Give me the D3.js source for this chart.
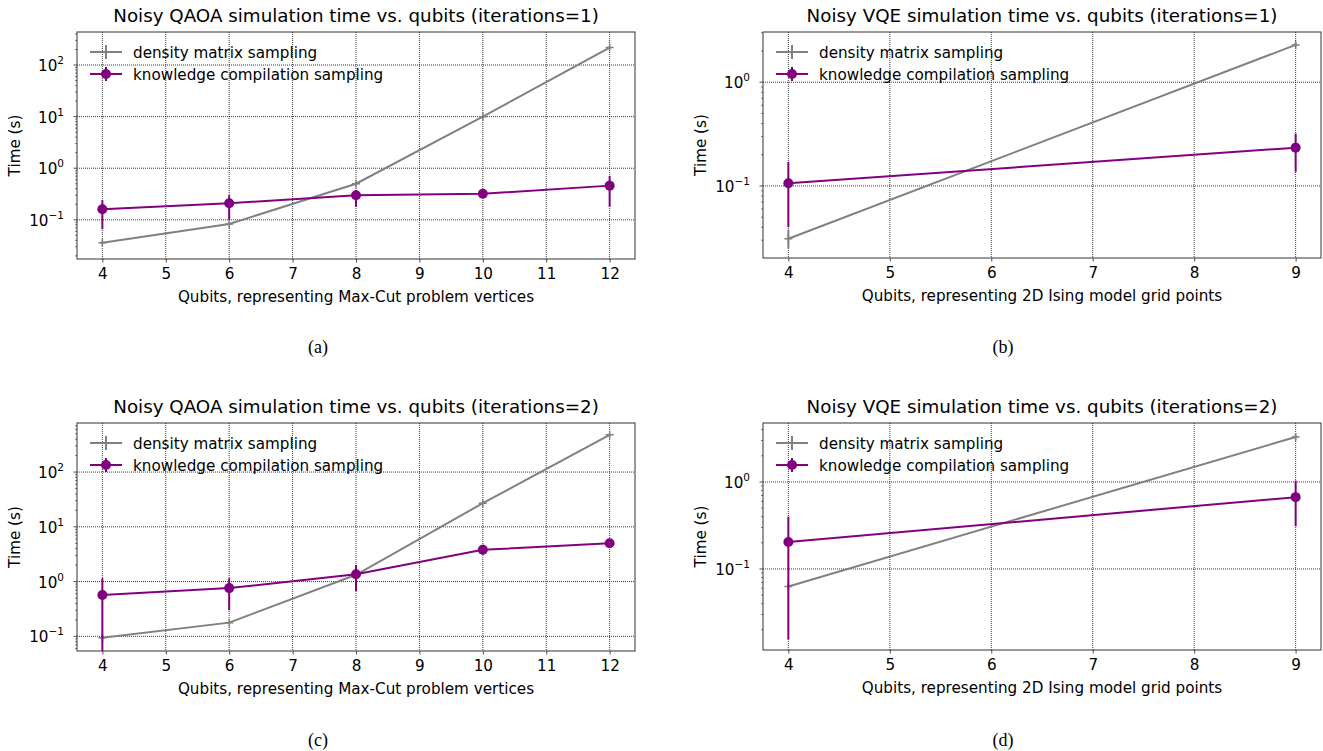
<!DOCTYPE html>
<html>
<head>
<meta charset="utf-8">
<script src="https://cdn.jsdelivr.net/npm/d3@7"></script>
<style>
  body { margin: 0; background: #fff; }
  text { font-family: "DejaVu Sans", sans-serif; fill: #000; }
  .caption { font-family: "Liberation Serif", "DejaVu Serif", serif; font-size: 18px; }
</style>
</head>
<body>
<svg id="chart" width="1323" height="751"></svg>
<script>
// qubit counts on the x axis
var qaoaQubits = [4, 6, 8, 10, 12];
var vqeQubits = [4, 9];

// QAOA, iterations = 1
var qaoa1Density = [0.036, 0.083, 0.50, 10, 218];
var qaoa1DensityLo = [0.034, 0.080, 0.48, 9.7, 205];
var qaoa1DensityHi = [0.038, 0.086, 0.52, 10.3, 230];
var qaoa1Knowledge = [0.16, 0.21, 0.30, 0.32, 0.46];
var qaoa1KnowledgeLo = [0.066, 0.10, 0.18, 0.29, 0.18];
var qaoa1KnowledgeHi = [0.24, 0.30, 0.38, 0.35, 0.71];

// VQE, iterations = 1
var vqe1Density = [0.031, 2.29];
var vqe1DensityLo = [0.025, 2.2];
var vqe1DensityHi = [0.038, 2.4];
var vqe1Knowledge = [0.106, 0.234];
var vqe1KnowledgeLo = [0.040, 0.137];
var vqe1KnowledgeHi = [0.17, 0.32];

// QAOA, iterations = 2
var qaoa2Density = [0.094, 0.178, 1.33, 27, 480];
var qaoa2DensityLo = [0.090, 0.170, 1.25, 26, 460];
var qaoa2DensityHi = [0.098, 0.186, 1.40, 28, 500];
var qaoa2Knowledge = [0.57, 0.76, 1.36, 3.8, 5.0];
var qaoa2KnowledgeLo = [0.001, 0.30, 0.67, 3.1, 4.5];
var qaoa2KnowledgeHi = [1.15, 1.15, 2.0, 4.7, 5.5];

// VQE, iterations = 2
var vqe2Density = [0.063, 3.29];
var vqe2DensityLo = [0.060, 3.15];
var vqe2DensityHi = [0.066, 3.45];
var vqe2Knowledge = [0.204, 0.67];
var vqe2KnowledgeLo = [0.0155, 0.31];
var vqe2KnowledgeHi = [0.40, 1.04];

var titles = [
  "Noisy QAOA simulation time vs. qubits (iterations=1)",
  "Noisy VQE simulation time vs. qubits (iterations=1)",
  "Noisy QAOA simulation time vs. qubits (iterations=2)",
  "Noisy VQE simulation time vs. qubits (iterations=2)"
];
var xLabels = [
  "Qubits, representing Max-Cut problem vertices",
  "Qubits, representing 2D Ising model grid points"
];
var legendNames = ["density matrix sampling", "knowledge compilation sampling"];
var captions = ["(a)", "(b)", "(c)", "(d)"];

var grayColor = "#808080";
var purpleColor = "#800080";
var fontSize = "15.2px";

var svg = d3.select("#chart");

// build one table per panel from the arrays above
function series(xs, ys, lo, hi) {
  return xs.map(function(x, i) { return { x: x, y: ys[i], lo: lo[i], hi: hi[i] }; });
}

var panels = [
  { title: titles[0], xLabel: xLabels[0], caption: captions[0], capX: 318, capY: 353,
    box: { left: 77, right: 635, top: 32, bottom: 259 },
    xDomain: [3.6, 12.4], xTicks: d3.range(4, 13), yDomain: [0.0174, 437],
    density: series(qaoaQubits, qaoa1Density, qaoa1DensityLo, qaoa1DensityHi),
    knowledge: series(qaoaQubits, qaoa1Knowledge, qaoa1KnowledgeLo, qaoa1KnowledgeHi) },
  { title: titles[1], xLabel: xLabels[1], caption: captions[1], capX: 1003, capY: 353,
    box: { left: 763, right: 1321, top: 32, bottom: 258 },
    xDomain: [3.75, 9.25], xTicks: d3.range(4, 10), yDomain: [0.0202, 3.05],
    density: series(vqeQubits, vqe1Density, vqe1DensityLo, vqe1DensityHi),
    knowledge: series(vqeQubits, vqe1Knowledge, vqe1KnowledgeLo, vqe1KnowledgeHi) },
  { title: titles[2], xLabel: xLabels[0], caption: captions[2], capX: 318, capY: 746,
    box: { left: 77, right: 635, top: 423, bottom: 651 },
    xDomain: [3.6, 12.4], xTicks: d3.range(4, 13), yDomain: [0.054, 787],
    density: series(qaoaQubits, qaoa2Density, qaoa2DensityLo, qaoa2DensityHi),
    knowledge: series(qaoaQubits, qaoa2Knowledge, qaoa2KnowledgeLo, qaoa2KnowledgeHi) },
  { title: titles[3], xLabel: xLabels[1], caption: captions[3], capX: 1003, capY: 746,
    box: { left: 763, right: 1321, top: 423, bottom: 650 },
    xDomain: [3.75, 9.25], xTicks: d3.range(4, 10), yDomain: [0.0117, 4.77],
    density: series(vqeQubits, vqe2Density, vqe2DensityLo, vqe2DensityHi),
    knowledge: series(vqeQubits, vqe2Knowledge, vqe2KnowledgeLo, vqe2KnowledgeHi) }
];

panels.forEach(function(p, idx) { drawPanel(p, idx); });

function drawPanel(p, idx) {
  var b = p.box;
  var x = d3.scaleLinear().domain(p.xDomain).range([b.left, b.right]);
  var y = d3.scaleLog().domain(p.yDomain).range([b.bottom, b.top]);
  var g = svg.append("g");

  // clip so the error bars stay inside the axes
  var clipId = "clip" + idx;
  svg.append("clipPath").attr("id", clipId)
    .append("rect")
    .attr("x", b.left).attr("y", b.top)
    .attr("width", b.right - b.left).attr("height", b.bottom - b.top);

  // decades and minor ticks inside the y domain
  var lo = Math.floor(Math.log10(p.yDomain[0]));
  var hi = Math.ceil(Math.log10(p.yDomain[1]));
  var majors = [], minors = [];
  for (var e = lo; e <= hi; e++) {
    var v = Math.pow(10, e);
    if (v >= p.yDomain[0] && v <= p.yDomain[1]) majors.push(e);
    for (var m = 2; m <= 9; m++) {
      var mv = m * v;
      if (mv >= p.yDomain[0] && mv <= p.yDomain[1]) minors.push(mv);
    }
  }

  // grid lines
  g.selectAll(".gx").data(p.xTicks).enter().append("line")
    .attr("x1", function(d) { return x(d); }).attr("x2", function(d) { return x(d); })
    .attr("y1", b.top).attr("y2", b.bottom)
    .attr("stroke", "#222").attr("stroke-width", 0.9).attr("stroke-dasharray", "1,1");
  g.selectAll(".gy").data(majors).enter().append("line")
    .attr("x1", b.left).attr("x2", b.right)
    .attr("y1", function(d) { return y(Math.pow(10, d)); })
    .attr("y2", function(d) { return y(Math.pow(10, d)); })
    .attr("stroke", "#222").attr("stroke-width", 0.9).attr("stroke-dasharray", "1,1");

  // x axis
  var xAxis = d3.axisBottom(x).tickValues(p.xTicks).tickSize(3.5).tickPadding(6)
    .tickFormat(d3.format("d"));
  var gx = g.append("g").attr("transform", "translate(0," + b.bottom + ")").call(xAxis);
  gx.select(".domain").remove();
  gx.selectAll("line").attr("stroke", "#222").attr("stroke-width", 0.8);
  gx.selectAll("text").style("font-family", "DejaVu Sans").style("font-size", fontSize)
    .attr("fill", "#000");

  // y axis ticks, minor then major
  g.selectAll(".ym").data(minors).enter().append("line")
    .attr("x1", b.left - 2).attr("x2", b.left)
    .attr("y1", function(d) { return y(d); }).attr("y2", function(d) { return y(d); })
    .attr("stroke", "#222").attr("stroke-width", 0.6);
  g.selectAll(".yM").data(majors).enter().append("line")
    .attr("x1", b.left - 3.5).attr("x2", b.left)
    .attr("y1", function(d) { return y(Math.pow(10, d)); })
    .attr("y2", function(d) { return y(Math.pow(10, d)); })
    .attr("stroke", "#222").attr("stroke-width", 0.8);

  // power of ten labels with superscript exponents
  var labels = g.selectAll(".yl").data(majors).enter().append("text")
    .attr("x", b.left - 13)
    .attr("y", function(d) { return y(Math.pow(10, d)) + 6; })
    .attr("text-anchor", "end")
    .style("font-size", fontSize);
  labels.append("tspan").text("10");
  labels.append("tspan")
    .attr("dy", -7)
    .style("font-size", "10.5px")
    .text(function(d) { return d < 0 ? "\u2212" + (-d) : String(d); });

  // axes frame
  g.append("rect")
    .attr("x", b.left).attr("y", b.top)
    .attr("width", b.right - b.left).attr("height", b.bottom - b.top)
    .attr("fill", "none").attr("stroke", "#333").attr("stroke-width", 1);

  // title and axis labels
  g.append("text")
    .attr("x", (b.left + b.right) / 2).attr("y", b.top - 10)
    .attr("text-anchor", "middle").style("font-size", "18.3px")
    .text(p.title);
  g.append("text")
    .attr("x", (b.left + b.right) / 2).attr("y", b.bottom + 43)
    .attr("text-anchor", "middle").style("font-size", fontSize)
    .text(p.xLabel);
  g.append("text")
    .attr("transform", "translate(" + (b.left - 57) + "," + ((b.top + b.bottom) / 2) + ") rotate(-90)")
    .attr("text-anchor", "middle").style("font-size", fontSize)
    .text("Time (s)");

  // caption under the panel
  svg.append("text").attr("class", "caption")
    .attr("x", p.capX).attr("y", p.capY).attr("text-anchor", "middle")
    .text(p.caption);

  var line = d3.line()
    .x(function(d) { return x(d.x); })
    .y(function(d) { return y(d.y); });

  var plot = g.append("g").attr("clip-path", "url(#" + clipId + ")");

  // density matrix sampling: gray line with + markers
  plot.append("path").datum(p.density)
    .attr("d", line).attr("fill", "none")
    .attr("stroke", grayColor).attr("stroke-width", 2);
  plot.selectAll(".de").data(p.density).enter().append("line")
    .attr("x1", function(d) { return x(d.x); }).attr("x2", function(d) { return x(d.x); })
    .attr("y1", function(d) { return y(d.lo); }).attr("y2", function(d) { return y(d.hi); })
    .attr("stroke", grayColor).attr("stroke-width", 2);
  plot.selectAll(".dm").data(p.density).enter().append("path")
    .attr("d", function(d) {
      var cx = x(d.x), cy = y(d.y);
      return "M" + (cx - 4) + "," + cy + "H" + (cx + 4) + "M" + cx + "," + (cy - 4) + "V" + (cy + 4);
    })
    .attr("stroke", grayColor).attr("stroke-width", 1.5);

  // knowledge compilation sampling: purple line with circles
  plot.append("path").datum(p.knowledge)
    .attr("d", line).attr("fill", "none")
    .attr("stroke", purpleColor).attr("stroke-width", 2);
  plot.selectAll(".ke").data(p.knowledge).enter().append("line")
    .attr("x1", function(d) { return x(d.x); }).attr("x2", function(d) { return x(d.x); })
    .attr("y1", function(d) { return y(d.lo); }).attr("y2", function(d) { return y(d.hi); })
    .attr("stroke", purpleColor).attr("stroke-width", 2);
  plot.selectAll(".km").data(p.knowledge).enter().append("circle")
    .attr("cx", function(d) { return x(d.x); }).attr("cy", function(d) { return y(d.y); })
    .attr("r", 5).attr("fill", purpleColor);

  // legend in the upper left, no frame
  var lg = g.append("g").attr("transform", "translate(" + (b.left + 13) + "," + (b.top + 20) + ")");
  legendNames.forEach(function(name, i) {
    var row = lg.append("g").attr("transform", "translate(0," + (i * 22) + ")");
    var col = i === 0 ? grayColor : purpleColor;
    row.append("line").attr("x1", 0).attr("x2", 32).attr("y1", 0).attr("y2", 0)
      .attr("stroke", col).attr("stroke-width", 2);
    row.append("line").attr("x1", 16).attr("x2", 16).attr("y1", -7).attr("y2", 7)
      .attr("stroke", col).attr("stroke-width", 2);
    if (i === 0) {
      row.append("path").attr("d", "M12,0H20M16,-4V4")
        .attr("stroke", col).attr("stroke-width", 1.5);
    } else {
      row.append("circle").attr("cx", 16).attr("cy", 0).attr("r", 5).attr("fill", col);
    }
    row.append("text").attr("x", 43).attr("y", 5.5).style("font-size", fontSize).text(name);
  });
}
</script>
</body>
</html>
